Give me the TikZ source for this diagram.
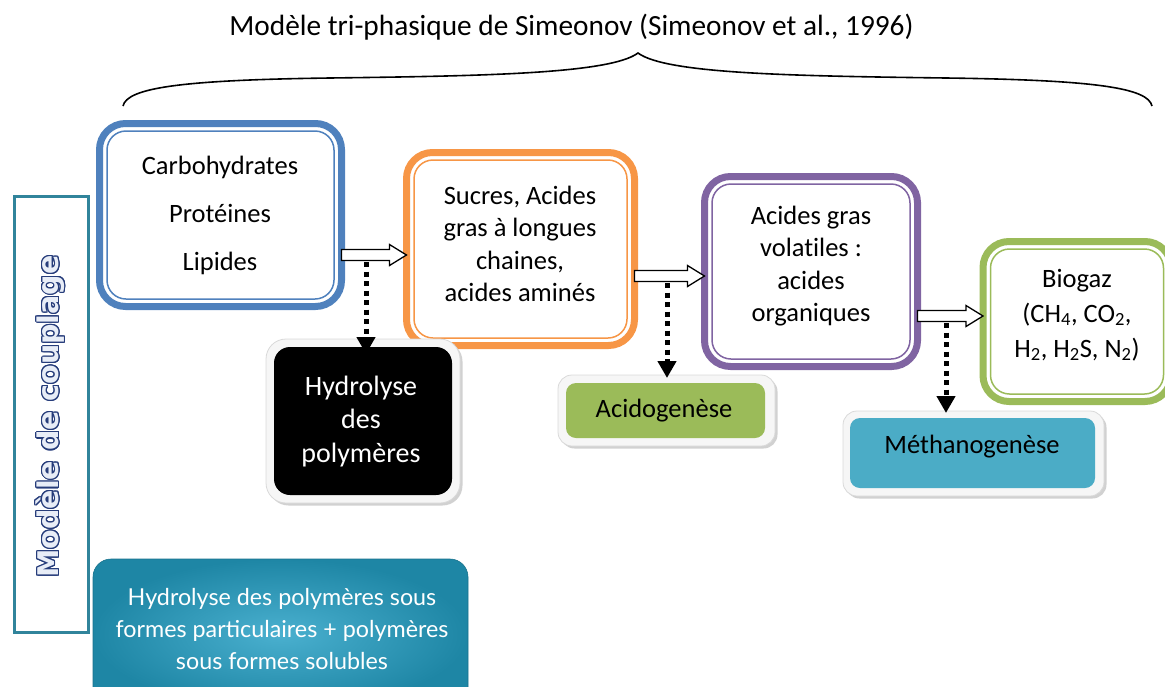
\documentclass[tikz,border=0pt]{standalone}
\usepackage{fontspec}
\setmainfont{Carlito}[Ligatures=NoCommon]
\newfontfamily\latofont{Lato}
\newfontfamily\vfont{DejaVu Sans}
\usepackage{contour}
\usetikzlibrary{calc,arrows.meta,shadows}
\definecolor{blueB}{HTML}{4F81BD}
\definecolor{orangeB}{HTML}{F79646}
\definecolor{purpleB}{HTML}{8064A2}
\definecolor{greenB}{HTML}{9BBB59}
\definecolor{tealM}{HTML}{4BACC6}
\definecolor{tealL}{HTML}{31849B}
\definecolor{navyC}{HTML}{263C7A}
\definecolor{lightC}{HTML}{E8EDF7}
\definecolor{hypIn}{HTML}{4AB0CF}
\definecolor{hypOut}{HTML}{1E86A5}
\newcommand\innerline[2]{\draw[#2, line width=1.5pt, rounded corners=19pt] ([shift={(7.5,7.5)}]#1.north west) rectangle ([shift={(-7.5,-7.5)}]#1.south east);}
\newcommand\blockarrow[2]{\draw[blockar] ($(#1)+(0,-5.5)$) -- ($(#2)+(-17,-5.5)$) -- ($(#2)+(-17,-10.5)$) -- (#2) -- ($(#2)+(-17,10.5)$) -- ($(#2)+(-17,5.5)$) -- ($(#1)+(0,5.5)$) -- cycle;}
\begin{document}
\begin{tikzpicture}[x=1pt,y=-1pt,
  txt/.style={font=\fontsize{26.5}{32.5}\selectfont, align=center, inner sep=0pt},
  phase/.style={draw=#1, line width=7pt, rounded corners=26pt, fill=white, outer sep=0pt, inner sep=0pt},
  shout/.style={fill=gray!7, draw=gray!30, line width=0.8pt, rounded corners=20pt, outer sep=0pt,
     drop shadow={shadow xshift=2.5pt, shadow yshift=-2.5pt, fill=gray!45, opacity=0.8}},
  shin/.style={fill=#1, rounded corners=16pt, outer sep=0pt, inner sep=0pt},
  blockar/.style={draw=black, fill=white, line width=1.3pt, line join=miter},
  dotar/.style={line width=5pt, dash pattern=on 5pt off 4.5pt, -{Triangle[width=18pt,length=17pt]}},
]
\useasboundingbox (0,0) rectangle (1165,686);
\clip (0,0) rectangle (1165,686);

% title and brace
\node[font=\fontsize{29.3}{34}\selectfont, inner sep=0pt] (title) at (571.5,27) {Modèle tri-phasique de Simeonov (Simeonov et al., 1996)};
\coordinate (brL) at (123,106);
\coordinate (brT) at (638,53);
\coordinate (brR) at (1152,106);
\draw[line width=1.6pt] (brL) .. controls (127,88) and (180,80) .. (330,78)
   .. controls (480,76) and (610,74) .. (brT)
   .. controls (666,74) and (796,76) .. (946,78)
   .. controls (1096,80) and (1148,88) .. (brR);

% left frame
\node[draw=tealL, line width=3pt, minimum width=74.5pt, minimum height=436pt, outer sep=0pt] (coup) at (51.25,414) {};
\node[rotate=90, inner sep=0pt] (coupT) at (51,416.5) {\vfont\bfseries\fontsize{28.5}{31}\selectfont\contourlength{1.1pt}\color{lightC}\contour{navyC}{Modèle de couplage}};

% phase boxes
\node[phase=blueB, minimum width=242pt, minimum height=183pt] (b1) at (220.5,215) {};
\innerline{b1}{blueB}
\node[txt] (t1) at (220,215) {Carbohydrates\\[15.5pt]Protéines\\[15.5pt]Lipides};

\node[phase=orangeB, minimum width=228pt, minimum height=193pt] (b2) at (520.5,249) {};
\innerline{b2}{orangeB}
\node[txt] (t2) at (520,244) {Sucres, Acides\\gras à longues\\chaines,\\acides aminés};

\node[phase=purpleB, minimum width=213pt, minimum height=190pt] (b3) at (811,271.5) {};
\innerline{b3}{purpleB}
\node[txt] (t3) at (811,266) {Acides gras\\volatiles :\\acides\\organiques};

\node[phase=greenB, minimum width=188pt, minimum height=160pt] (b4) at (1077,321.5) {};
\innerline{b4}{greenB}
\node[txt, font=\fontsize{26.5}{35}\selectfont] (t4) at (1077,315) {Biogaz\\(CH\textsubscript{4}, CO\textsubscript{2},\\H\textsubscript{2}, H\textsubscript{2}S, N\textsubscript{2})};

% process boxes
\node[shout, minimum width=194pt, minimum height=164pt] (hydo) at (363,421) {};
\node[shin=black, minimum width=178pt, minimum height=148pt] (hyd) at (363,421) {};
\node[txt, text=white, font=\fontsize{28}{33.5}\selectfont] (hydT) at (361,421.5) {Hydrolyse\\des\\polymères};

\node[shout, rounded corners=14pt, minimum width=217pt, minimum height=71pt] (acio) at (666.5,410.5) {};
\node[shin=greenB, rounded corners=10pt, minimum width=199pt, minimum height=55pt] (aci) at (665.5,410.5) {};
\node[txt] (aciT) at (664,411) {Acidogenèse};

\node[shout, rounded corners=14pt, minimum width=261pt, minimum height=85pt] (metho) at (973.5,453.5) {};
\node[shin=tealM, rounded corners=10pt, minimum width=245pt, minimum height=70pt] (meth) at (972.5,453) {};
\node[txt] (methT) at (972,447) {Méthanogenèse};

% bottom box
\node[rounded corners=18pt, inner color=hypIn, outer color=hypOut, draw=hypOut!85!black, line width=0.6pt,
      minimum width=375pt, minimum height=150pt, outer sep=0pt] (hyp) at (280.5,634) {};
\node[align=center, text=white, inner sep=0pt, font=\latofont\fontsize{23.3}{32}\selectfont] (hypT) at (282,629)
   {Hydrolyse des polymères sous\\formes particulaires + polymères\\sous formes solubles};

% block arrows
\coordinate (a1s) at (b1.east |- 0,255);
\coordinate (a1e) at (b2.west |- 0,255);
\coordinate (a2s) at (b2.east |- 0,276);
\coordinate (a2e) at (b3.west |- 0,276);
\coordinate (a3s) at (b3.east |- 0,316);
\coordinate (a3e) at (b4.west |- 0,316);
\blockarrow{a1s}{a1e}
\blockarrow{a2s}{a2e}
\blockarrow{a3s}{a3e}

% dotted arrows
\coordinate (d1s) at (366,262);
\coordinate (d1e) at (366,354);
\coordinate (d2s) at (667,283);
\coordinate (d2e) at (667,378);
\coordinate (d3s) at (946,323);
\coordinate (d3e) at (946,413);
\draw[dotar] (d1s) -- (d1e);
\draw[dotar] (d2s) -- (d2e);
\draw[dotar] (d3s) -- (d3e);
\end{tikzpicture}
\end{document}
